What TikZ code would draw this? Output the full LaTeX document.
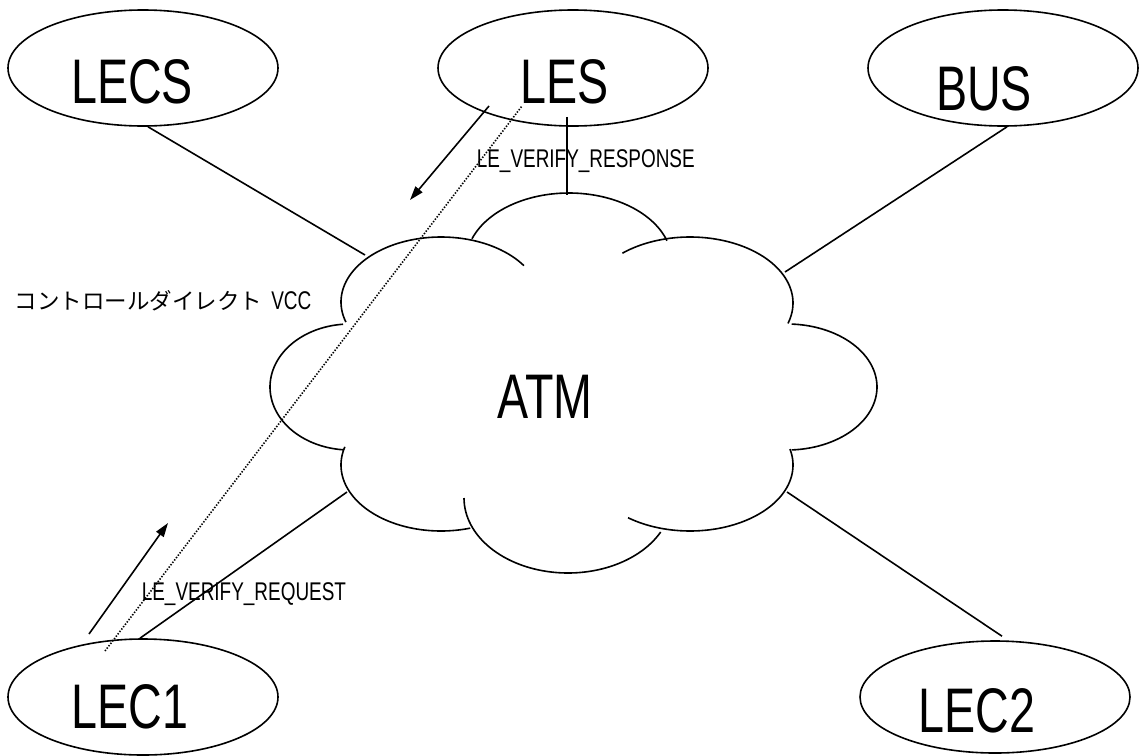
\documentclass[tikz,border=0pt]{standalone}
\usepackage{fontspec}
\setmainfont{Liberation Sans}
\newfontfamily\narrowf[FakeStretch=0.74]{Liberation Sans}
\newfontfamily\jpf{Noto Sans CJK JP}
\usetikzlibrary{shapes.geometric,arrows.meta,calc}
\begin{document}
\begin{tikzpicture}[x=1pt,y=-1pt,line width=1.6pt,
  ent/.style={draw,ellipse,minimum width=270pt,minimum height=116pt,inner sep=0pt},
  bigtxt/.style={font=\narrowf\fontsize{63}{63}\selectfont,inner sep=0pt,anchor=base},
  smalltxt/.style={font=\narrowf\fontsize{25.6}{26}\selectfont,inner sep=0pt,anchor=base west},
  jptxt/.style={font=\jpf\fontsize{22.5}{23}\selectfont,inner sep=0pt,anchor=base west},
  conn/.style={line width=1.6pt},
  bump/.style={line width=1.6pt},
  msg/.style={line width=1.6pt,-{Triangle[length=14pt,width=9pt]}},
  ctrlvcc/.style={line width=1.6pt,dash pattern=on 1.4pt off 1.6pt}]
\fill[white] (0,0) rectangle (1139,755);
\useasboundingbox (0,0) rectangle (1139,755);

% entities
\node[ent] (lecs) at (143,68) {};
\node[ent] (les)  at (573,68) {};
\node[ent] (bus)  at (1003,68) {};
\node[ent] (lec1) at (143,697) {};
\node[ent,minimum height=112pt] (lec2) at (995,697) {};

\node[bigtxt] (lecs-t) at (132,103) {LECS};
\node[bigtxt] (les-t)  at (565,103) {LES};
\node[bigtxt] (bus-t)  at (984,110) {BUS};
\node[bigtxt] (lec1-t) at (130,728) {LEC1};
\node[bigtxt] (lec2-t) at (977,732) {LEC2};

% ATM cloud
\draw[bump] plot[domain=199.6:342,samples=60,smooth] ({569+103*cos(\x)},{262+69*sin(\x)});
\draw[bump] plot[domain=162:326,samples=60,smooth] ({441+100*cos(\x)},{302+65*sin(\x)});
\draw[bump] plot[domain=229:378,samples=60,smooth] ({690+103*cos(\x)},{303+66*sin(\x)});
\draw[bump] plot[domain=95:265,samples=60,smooth] ({350+80*cos(\x)},{387+63*sin(\x)});
\draw[bump] plot[domain=-87:87,samples=60,smooth] ({787+90*cos(\x)},{387+63*sin(\x)});
\draw[bump] plot[domain=73:196,samples=60,smooth] ({441+100*cos(\x)},{465+66*sin(\x)});
\draw[bump] plot[domain=27:180,samples=60,smooth] ({568+104*cos(\x)},{498+75*sin(\x)});
\draw[bump] plot[domain=-14:127,samples=60,smooth] ({690+103*cos(\x)},{465+66*sin(\x)});
\node[font=\narrowf\fontsize{63}{63}\selectfont,inner sep=0pt,anchor=base] (atm) at (545,418) {ATM};

% cloud connection points
\coordinate (c-lecs) at (365,255);
\coordinate (c-les)  at (567,195);
\coordinate (c-bus)  at (785,272);
\coordinate (c-lec1) at (347,492);
\coordinate (c-lec2) at (787,492);

% connectors
\draw[conn] ([xshift=5pt]lecs.south) -- (c-lecs);
\draw[conn] ([shift={(-6pt,10pt)}]les.south) -- (c-les);
\draw[conn] ([xshift=4pt]bus.south) -- (c-bus);
\draw[conn] ([xshift=-3pt]lec1.north) -- (c-lec1);
\draw[conn] ([shift={(7pt,4pt)}]lec2.north) -- (c-lec2);

% control direct VCC (dotted)
\draw[ctrlvcc] ($(lec1.center)+(-38,-46)$) -- ($(les.center)+(-51,38)$);

% messages
\coordinate (resp-end) at (410,200);
\coordinate (req-end) at (168,523);
\draw[msg] ($(les.center)+(-84,38)$) -- (resp-end);
\draw[msg] ($(lec1.center)+(-54,-63)$) -- (req-end);

% labels
\node[smalltxt] (resp-l) at (476,167) {LE\_VERIFY\_RESPONSE};
\node[smalltxt] (req-l) at (141,600) {LE\_VERIFY\_REQUEST};
\node[jptxt] (vcc-l) at (14,309) {コントロールダイレクト\hspace{9pt}{\narrowf\fontsize{25.6}{26}\selectfont VCC}};
\end{tikzpicture}
\end{document}
